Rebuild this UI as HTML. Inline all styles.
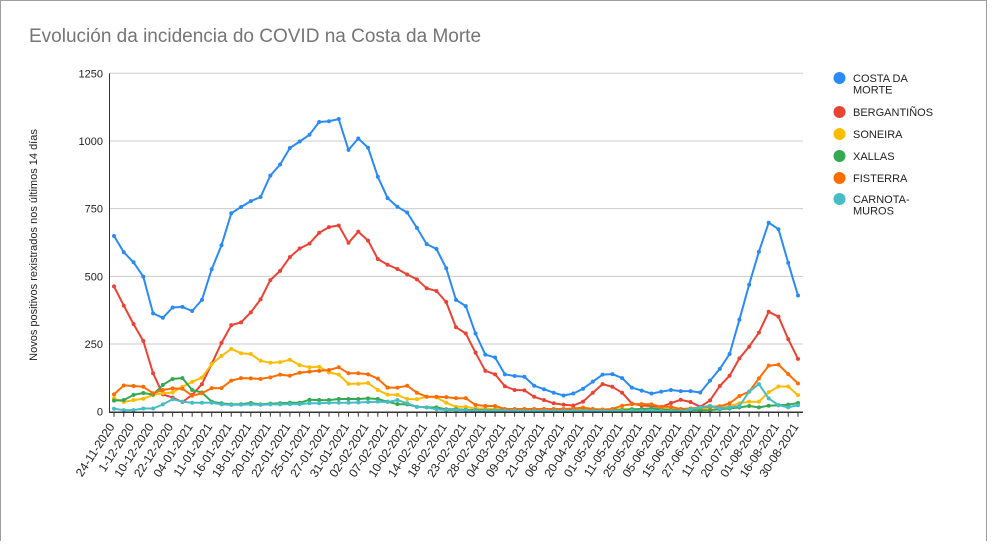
<!DOCTYPE html>
<html><head><meta charset="utf-8">
<style>
html,body{margin:0;padding:0;background:#fff;}
body{width:992px;height:541px;overflow:hidden;font-family:"Liberation Sans",Arial,sans-serif;}
</style></head>
<body>
<svg id="chart" width="992" height="541" xmlns="http://www.w3.org/2000/svg">
<rect x="0.5" y="0.5" width="986" height="545" fill="#fff" stroke="#9e9e9e"/>
<text x="29" y="42" font-size="19" fill="#757575">Evolución da incidencia do COVID na Costa da Morte</text>
<text transform="translate(37,245) rotate(-90)" text-anchor="middle" font-size="11" fill="#222">Novos positivos rexistrados nos últimos 14 días</text>
<g id="grid"></g><g id="series"></g><g id="axes"></g><g id="legend"></g>
</svg>
<script>
const categories=["24-11-2020","","1-12-2020","","10-12-2020","","22-12-2020","","04-01-2021","","11-01-2021","","16-01-2021","","18-01-2021","","20-01-2021","","22-01-2021","","25-01-2021","","27-01-2021","","31-01-2021","","02-02-2021","","07-02-2021","","10-02-2021","","14-02-2021","","18-02-2021","","23-02-2021","","28-02-2021","","04-03-2021","","09-03-2021","","21-03-2021","","06-04-2021","","20-04-2021","","01-05-2021","","11-05-2021","","25-05-2021","","05-06-2021","","15-06-2021","","27-06-2021","","11-07-2021","","20-07-2021","","01-08-2021","","16-08-2021","","30-08-2021"];
const yTicks=[0,250,500,750,1000,1250];
const seriesNames=["COSTA DA MORTE","BERGANTIÑOS","SONEIRA","XALLAS","FISTERRA","CARNOTA-MUROS"];
const seriesColors=["#2a8af6","#ea4335","#fbbc04","#34a853","#ff6d01","#46bdc6"];
const costaDaMorte=[649,589,552,499,363,347,385,387,372,413,526,615,733,756,778,793,872,913,974,998,1023,1070,1073,1081,967,1009,975,868,789,757,736,679,619,601,530,413,390,289,211,200,138,132,129,96,83,70,60,67,85,111,137,139,124,89,78,67,74,80,76,76,71,115,158,213,340,469,591,698,674,550,429];
const bergantinos=[463,392,324,261,142,64,52,36,62,102,177,254,320,330,367,415,486,520,571,603,621,661,682,688,624,665,632,564,543,527,507,489,456,446,405,312,289,218,151,138,94,80,79,55,43,31,26,23,37,70,102,92,70,30,23,21,17,32,44,36,18,42,95,133,197,240,292,369,351,268,195];
const soneira=[49,36,43,48,62,68,71,92,110,126,176,206,232,216,213,188,181,183,192,172,164,166,145,137,103,103,106,80,63,62,47,46,55,53,33,18,18,12,12,10,8,8,8,8,8,8,8,10,10,8,6,8,10,10,10,12,12,10,8,12,9,16,16,21,31,37,37,72,93,93,61];
const xallas=[41,43,62,69,63,99,121,124,80,71,37,31,27,28,32,27,30,31,33,33,44,43,43,47,47,47,49,47,37,28,27,18,16,16,9,9,7,6,5,5,5,5,4,4,4,4,4,4,4,4,4,5,6,8,10,12,8,6,5,5,5,6,9,12,16,21,16,22,24,26,32];
const fisterra=[64,97,95,92,68,80,86,85,59,68,87,87,115,124,123,121,127,137,133,144,148,151,154,164,142,142,138,122,89,89,96,70,55,55,54,50,50,25,21,21,10,10,10,10,10,10,10,12,15,10,8,10,22,28,28,27,18,18,10,12,16,18,20,31,58,74,123,170,174,139,104];
const carnotaMuros=[11,6,6,12,12,27,46,37,33,33,33,27,25,26,27,25,27,27,28,28,31,31,33,33,33,34,36,37,36,43,31,18,16,9,6,6,5,4,4,4,4,4,3,3,3,3,3,3,3,3,3,3,3,3,3,3,3,2,2,9,16,22,12,16,21,74,102,49,24,16,24];
const seriesData=[costaDaMorte,bergantinos,soneira,xallas,fisterra,carnotaMuros];
const seriesKeys=["costa-da-morte","bergantinos","soneira","xallas","fisterra","carnota-muros"];

const NS="http://www.w3.org/2000/svg";
const X0=114,X1=798,Y0=411.7,Y1=73.3,YMAX=1250;
const xScale=i=>X0+(X1-X0)*i/(categories.length-1);
const yScale=v=>Y0-(Y0-Y1)*v/YMAX;
function mk(tag,attrs,parent){const e=document.createElementNS(NS,tag);for(const k in attrs)e.setAttribute(k,attrs[k]);parent.appendChild(e);return e;}
const grid=document.getElementById('grid'),axes=document.getElementById('axes'),ser=document.getElementById('series'),leg=document.getElementById('legend');
yTicks.forEach(t=>{
  const y=yScale(t);
  if(t>0){const g=mk('line',{x1:110,x2:803,y1:y,y2:y,stroke:'#cccccc','stroke-width':1},grid);
  
  }
  const l=mk('text',{x:103,y:y+4,'text-anchor':'end','font-size':11,fill:'#222'},axes);
  l.textContent=t;
  
  
});
const ya=mk('line',{x1:109.5,x2:109.5,y1:Y1,y2:Y0+1,stroke:'#333','stroke-width':1},axes);


const xa=mk('line',{x1:109,x2:803,y1:Y0+0.5,y2:Y0+0.5,stroke:'#333','stroke-width':1.5},axes);


categories.forEach((c,i)=>{
  const x=xScale(i);
  const tk=mk('line',{x1:x,x2:x,y1:Y0,y2:Y0+5,stroke:'#333','stroke-width':1},axes);
  
  
  if(c){
    const t=mk('text',{transform:`translate(${x+1},${Y0+15}) rotate(-57)`,'text-anchor':'end','font-size':12,fill:'#222'},axes);
    t.textContent=c;
    
    
  }
});
seriesData.forEach((d,s)=>{
  const g=mk('g',{},ser);
  
  
  const pts=d.map((v,i)=>xScale(i).toFixed(1)+','+yScale(v).toFixed(1)).join(' ');
  const pl=mk('polyline',{points:pts,fill:'none',stroke:seriesColors[s],'stroke-width':2,'stroke-linejoin':'round'},g);
  
  
  d.forEach((v,i)=>{
    const p=mk('circle',{cx:xScale(i),cy:yScale(v),r:2,fill:seriesColors[s]},g);
    
    
  });
});
const legendRows=[[78],[112],[134],[156],[178],[199]];
const wrap=[["COSTA DA","MORTE"],["BERGANTIÑOS"],["SONEIRA"],["XALLAS"],["FISTERRA"],["CARNOTA-","MUROS"]];
seriesNames.forEach((n,s)=>{
  const y=legendRows[s][0];
  const g=mk('g',{},leg);
  
  
  mk('circle',{cx:839.5,cy:y,r:6,fill:seriesColors[s]},g);
  wrap[s].forEach((line,k)=>{
    const t=mk('text',{x:853,y:y+4+k*11.5,'font-size':11,fill:'#222'},g);
    t.textContent=line;
  });
});
</script>
</body></html>
